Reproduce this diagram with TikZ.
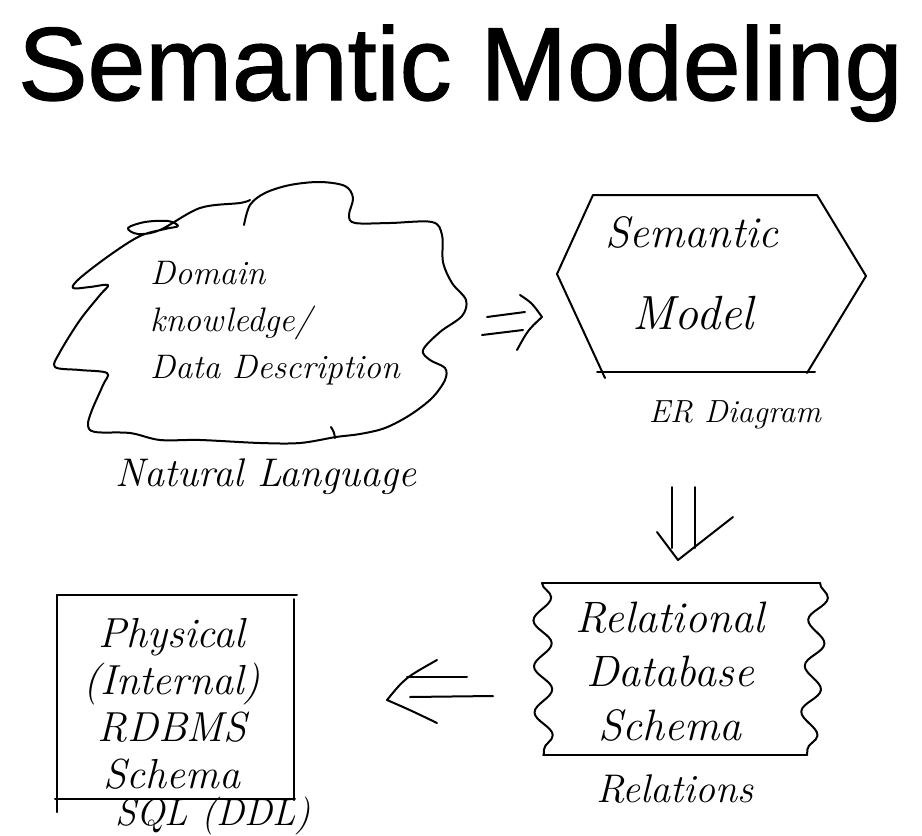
\documentclass[tikz,border=0pt]{standalone}
\usepackage{fontspec}
\newfontfamily\headfont[FakeBold=1.2]{Liberation Sans}
\usepackage{tikz}
\usetikzlibrary{positioning, calc, decorations.pathmorphing}

\tikzset{
    pen/.style={line width=2pt, line cap=round, line join=round},
    script/.style={inner sep=0pt, align=center, font=\fontsize{36}{47}\selectfont\itshape},
    wavy/.style={pen, decorate, decoration={snake, amplitude=9pt, segment length=46pt}},
}

\begin{document}
\begin{tikzpicture}[x=1pt, y=-1pt]
    \useasboundingbox (0,0) rectangle (922,836);
    % title
    \node[anchor=base west, inner sep=0pt, font=\headfont\fontsize{104}{110}\selectfont] (title) at (18,100) {Semantic Modeling};

    % cloud: domain knowledge
    \draw[pen] plot [smooth, tension=0.55] coordinates {(244,225) (250,205) (265,193) (290,185) (320,182) (345,186) (353,198) (349,215) (355,223) (390,223) (432,222) (442,235) (443,262) (452,283) (466,300) (462,316) (440,332) (423,350) (430,360) (445,368) (445,380) (432,398) (410,415) (385,428) (360,434) (336,437) (300,443) (260,443) (200,440) (160,440) (130,433) (95,432) (88,425) (92,410) (103,385) (107,373) (80,370) (55,367) (60,352) (80,320) (100,295) (108,285) (90,287) (73,288) (80,278) (110,255) (140,236) (165,229) (178,226) (168,221) (145,222) (128,228) (138,234) (160,230) (200,208) (240,203) (250,200)};
    \draw[pen] (331,427) .. controls (334,432) .. (335,438);
    \node[script, align=left, anchor=west, font=\fontsize{34}{47}\selectfont\itshape] (domain) at (150,323) {Domain\\knowledge/\\Data Description};
    \node[script, font=\fontsize{40}{42}\selectfont\itshape] (natlang) at (266,477) {Natural Language};

    % hexagon: semantic model
    \draw[pen] (593,195) -- (817,195) -- (866,276) -- (807,373);
    \draw[pen] (593,195) -- (557,274) -- (605,378);
    \draw[pen] (597,372) -- (815,372);
    \node[script, font=\fontsize{44}{46}\selectfont\itshape] (semantic) at (692,232) {Semantic};
    \node[script, font=\fontsize{48}{50}\selectfont\itshape] (model) at (693,313) {Model};
    \node[script, font=\fontsize{32}{34}\selectfont\itshape] (er) at (735,415) {ER Diagram};

    % relational schema
    \draw[pen] (542,583) -- (820,583);
    \draw[pen] (543,755) -- (807,755);
    \draw[wavy] (542,583) -- (544,755);
    \draw[wavy] (820,583) -- (807,755);
    \node[script, font=\fontsize{44}{54}\selectfont\itshape] (rel) at (670,672) {Relational\\Database\\Schema};
    \node[script, font=\fontsize{40}{42}\selectfont\itshape] (relations) at (675,789) {Relations};

    % physical schema
    \draw[pen] (57,595) -- (297,595);
    \draw[pen] (294,599) -- (294,800);
    \draw[pen] (57,595) -- (57,812);
    \draw[pen] (55,799) -- (295,799);
    \node[script, font=\fontsize{42}{47}\selectfont\itshape] (phys) at (172,704) {Physical\\(Internal)\\RDBMS\\Schema};
    \node[script, anchor=base, font=\fontsize{38}{40}\selectfont\itshape] (sql) at (213,825) {SQL (DDL)};

    % arrows
    \coordinate (ra) at (542,317);
    \coordinate (da) at (678,560);
    \coordinate (la) at (387,700);
    \draw[pen] (487,317) -- (525,312);
    \draw[pen] (482,335) -- (523,330);
    \draw[pen] (520,295) .. controls (532,303) .. (ra) .. controls (528,330) .. (517,350);
    \draw[pen] (672,487) -- (672,548);
    \draw[pen] (695,487) -- (695,548);
    \draw[pen] (657,532) -- (da) -- (733,517);
    \draw[pen] (407,677) -- (467,677);
    \draw[pen] (410,697) -- (493,696);
    \draw[pen] (437,660) .. controls (405,678) .. (la) .. controls (410,710) .. (437,723);
\end{tikzpicture}
\end{document}
